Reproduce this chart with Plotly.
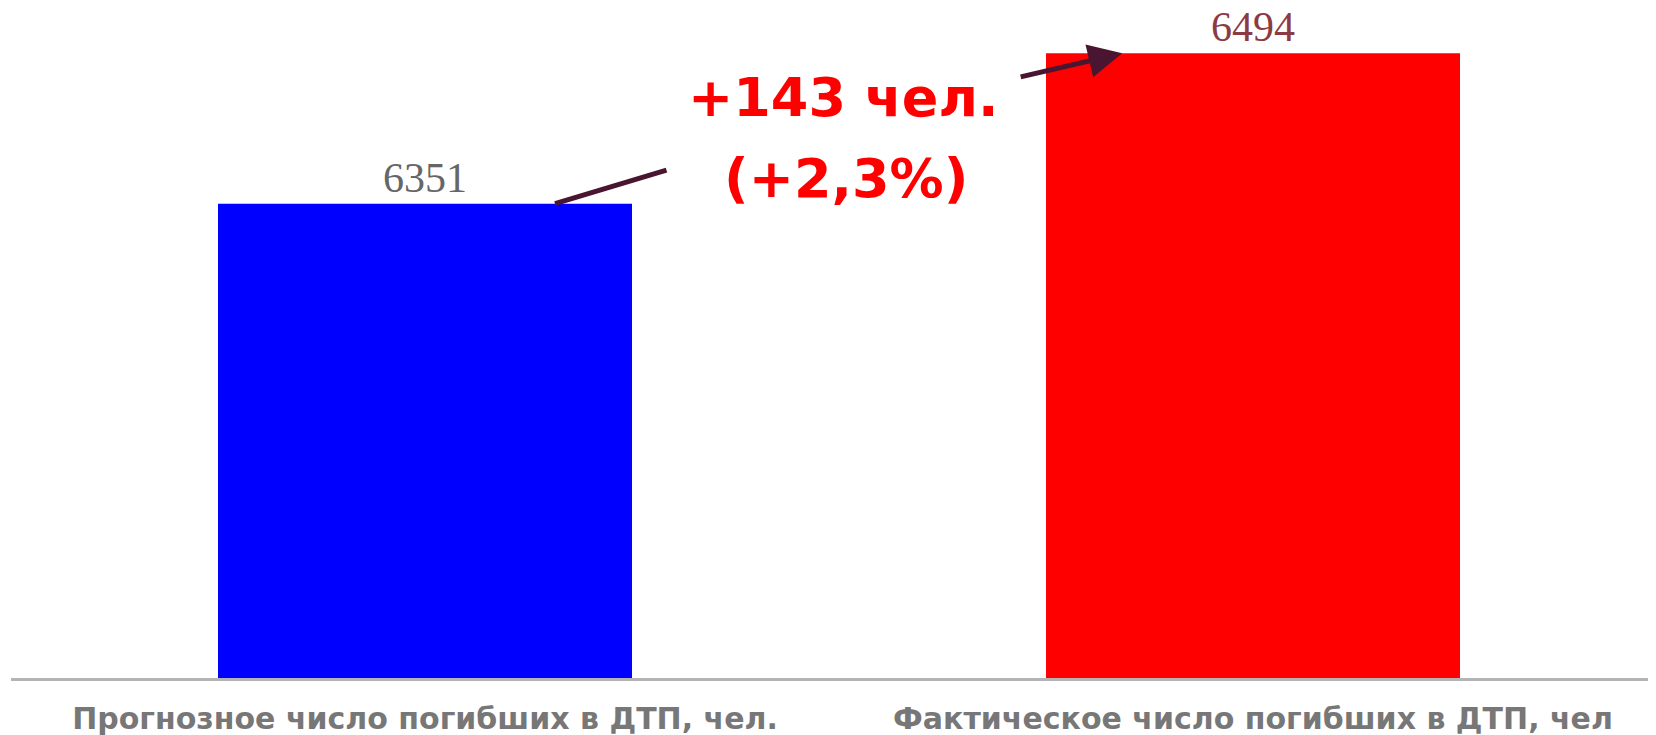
import plotly.graph_objects as go

categories = ["Прогнозное число погибших в ДТП, чел.", "Фактическое число погибших в ДТП, чел"]
values = [6351, 6494]
bar_colors = ["#0000FF", "#FF0000"]
label_colors = ["#666666", "#8c3b45"]
diff_line1 = "+143 чел."
diff_line2 = "(+2,3%)"

fig = go.Figure()
fig.add_trace(go.Bar(
    x=[0, 1], y=values,
    marker=dict(color=bar_colors, line=dict(width=0)),
    text=[str(v) for v in values],
    textposition="outside",
    textfont=dict(family="Liberation Serif", size=42, color=label_colors),
    cliponaxis=False,
    width=0.5,
))

arrow_color = "#4a1530"
fig.add_annotation(x=0.157, y=values[0], xref="x", yref="y", text="",
                   showarrow=True, arrowhead=0, arrowwidth=5, arrowcolor=arrow_color,
                   ax=113, ay=-34, standoff=0, startstandoff=0)
fig.add_annotation(x=0.842, y=values[1], xref="x", yref="y", text="",
                   showarrow=True, arrowhead=2, arrowsize=1.35, arrowwidth=5, arrowcolor=arrow_color,
                   ax=-103, ay=24, standoff=0, startstandoff=0)
title_font = dict(family="DejaVu Sans", size=54, color="#FF0000", weight="bold")
fig.add_annotation(x=0.506, y=6452, xref="x", yref="y", text=diff_line1,
                   showarrow=False, align="center", font=title_font)
fig.add_annotation(x=0.508, y=6375, xref="x", yref="y", text=diff_line2,
                   showarrow=False, align="center", font=title_font)

fig.update_layout(
    width=1648, height=727,
    margin=dict(l=3, r=0, t=0, b=57, autoexpand=False),
    paper_bgcolor="white", plot_bgcolor="white",
    showlegend=False,
    xaxis=dict(range=[-0.5, 1.4867], tickmode="array", tickvals=[0, 1], ticktext=categories,
               showgrid=False, zeroline=False, showline=True, linecolor="#b4b4b4", linewidth=3,
               automargin=False, ticks="", ticklabelstandoff=12,
               tickfont=dict(family="DejaVu Sans", size=30, color="#777777", weight="bold")),
    yaxis=dict(range=[5900, 6537], visible=False, showgrid=False, zeroline=False),
)

fig.write_html("out.html")
